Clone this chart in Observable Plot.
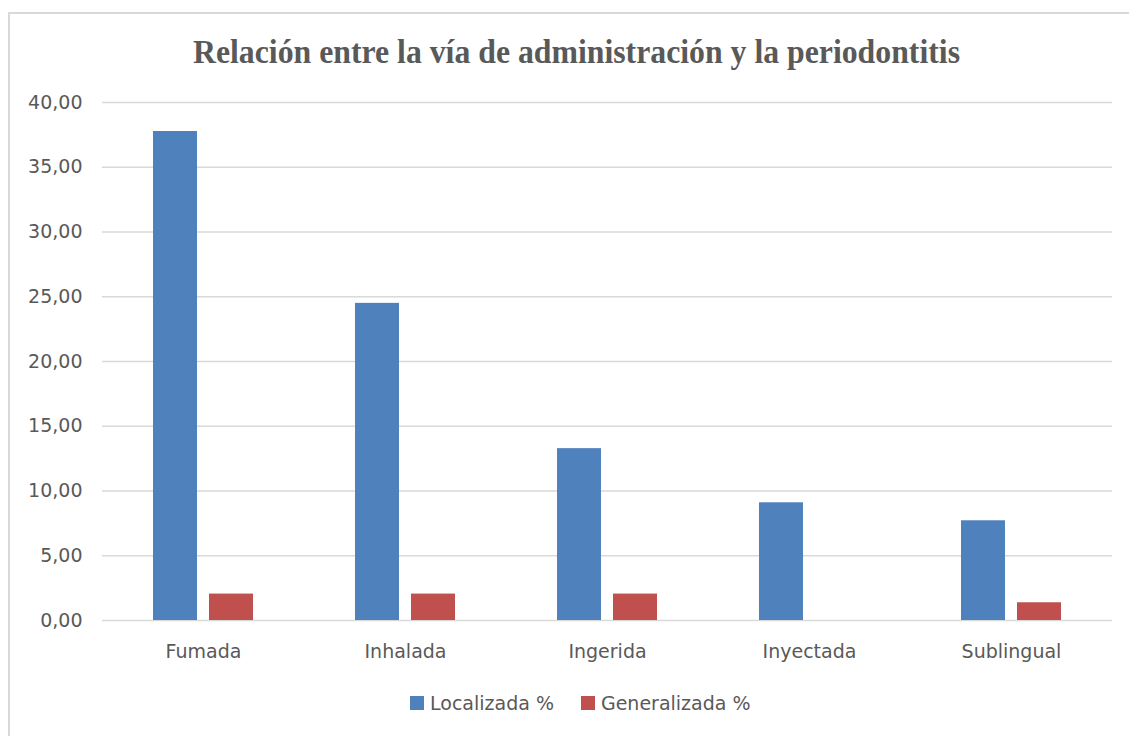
<!DOCTYPE html>
<html>
<head>
<meta charset="utf-8">
<script src="https://cdn.jsdelivr.net/npm/d3@7"></script>
<script src="https://cdn.jsdelivr.net/npm/@observablehq/plot@0.6"></script>
<style>
  html, body { margin: 0; padding: 0; background: #fff; }
  #wrap { position: relative; width: 1129px; height: 736px; overflow: hidden; }
  #frame { position: absolute; left: 8px; top: 12px; width: 1200px; height: 800px;
           border-left: 2px solid #d9d9d9; border-top: 2px solid #d9d9d9; box-sizing: border-box; }
  #title { position: absolute; left: 193px; top: 35px; white-space: nowrap;
           font-family: "Liberation Serif", "Times New Roman", serif; font-weight: bold;
           font-size: 34px; line-height: 34px; color: #595959; transform-origin: 0 0; }
  #chart { position: absolute; left: 0; top: 80px; }
  #legend { position: absolute; left: 410px; top: 692px; display: flex; align-items: center;
            font-family: "DejaVu Sans", sans-serif; font-size: 19px; color: #595959; }
  .item { display: flex; align-items: center; }
  .sw { width: 14px; height: 14px; margin-right: 6px; }
</style>
</head>
<body>
<div id="wrap">
  <div id="frame"></div>
  <div id="title">Relación entre la vía de administración y la periodontitis</div>
  <div id="chart"></div>
  <div id="legend"></div>
</div>
<script>
const categories = ["Fumada", "Inhalada", "Ingerida", "Inyectada", "Sublingual"];
const series = ["Localizada %", "Generalizada %"];
const localizada = [37.76, 24.49, 13.27, 9.09, 7.70];
const generalizada = [2.04, 2.04, 2.04, 0, 1.37];
const yTicks = [0, 5, 10, 15, 20, 25, 30, 35, 40];
const colors = ["#4f81bd", "#c0504d"];

const data = [];
categories.forEach((c, i) => {
  data.push({cat: c, serie: series[0], value: localizada[i]});
  data.push({cat: c, serie: series[1], value: generalizada[i]});
});

const fmt = d => d.toFixed(2).replace(".", ",");

const chart = Plot.plot({
  width: 1129,
  height: 600,
  marginLeft: 100,
  marginRight: 16,
  marginTop: 22,
  marginBottom: 60,
  style: {fontFamily: "DejaVu Sans, sans-serif", fontSize: "19px", color: "#595959", background: "transparent"},
  fx: {domain: categories, padding: 0, tickSize: 0, tickPadding: 24, label: null, axis: "bottom"},
  x: {domain: series, axis: null, paddingInner: 0.21, paddingOuter: 0.88},
  y: {domain: [0, 40], ticks: yTicks, tickFormat: fmt, tickSize: 0, tickPadding: 20, label: null},
  color: {domain: series, range: colors},
  marks: [
    Plot.ruleY(yTicks, {stroke: "#d9d9d9", strokeWidth: 1.3}),
    Plot.barY(data, {fx: "cat", x: "serie", y: "value", fill: "serie"})
  ]
});
document.getElementById("chart").appendChild(chart);

// title: condensed to match the reference width
const t = document.getElementById("title");
const w = t.getBoundingClientRect().width;
t.style.transform = `scaleX(${767 / w})`;

// legend
const lg = document.getElementById("legend");
series.forEach((s, i) => {
  const it = document.createElement("div");
  it.className = "item";
  if (i > 0) it.style.marginLeft = "27px";
  const sw = document.createElement("div");
  sw.className = "sw";
  sw.style.background = colors[i];
  const tx = document.createElement("span");
  tx.textContent = s;
  it.appendChild(sw);
  it.appendChild(tx);
  lg.appendChild(it);
});
</script>
</body>
</html>
